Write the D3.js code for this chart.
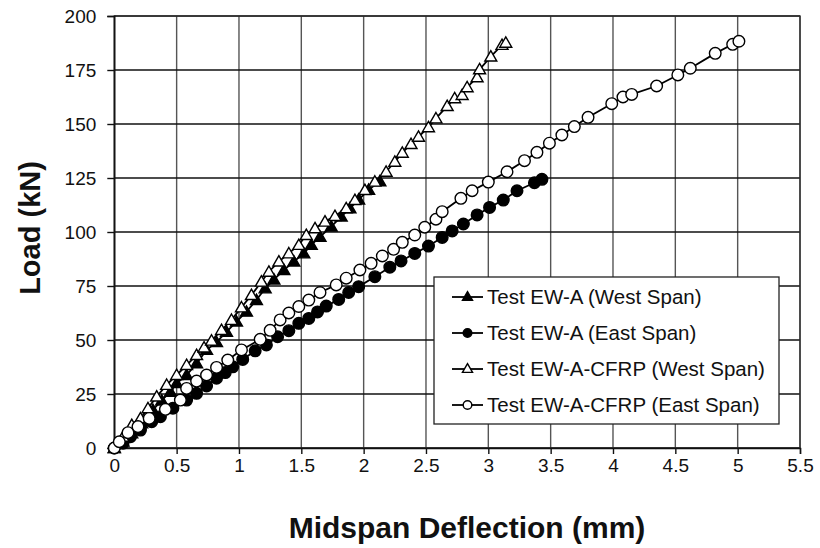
<!DOCTYPE html>
<html><head><meta charset="utf-8">
<script src="https://cdn.jsdelivr.net/npm/d3@7/dist/d3.min.js"></script>
<style>body{margin:0;background:#fff}svg{display:block}text{font-family:Arial,"Liberation Sans",sans-serif}</style>
</head><body><svg id="c" width="820" height="548"></svg>
<script>
const xTicks = [0,0.5,1,1.5,2,2.5,3,3.5,4,4.5,5,5.5];
const yTicks = [0,25,50,75,100,125,150,175,200];
const seriesNames = ["Test EW-A (West Span)","Test EW-A (East Span)","Test EW-A-CFRP (West Span)","Test EW-A-CFRP (East Span)"];

const ewaWest = [[0,0],[0.07,3],[0.14,6.8],[0.22,11.4],[0.31,17.6],[0.38,22],[0.45,26],[0.50,30],[0.58,33.8],[0.66,39.2],[0.74,45.4],[0.82,49],[0.90,53.8],[0.98,58.5],[1.06,63.1],[1.14,68.5],[1.21,73.9],[1.28,78],[1.36,82.4],[1.44,86.3],[1.52,90.1],[1.58,94],[1.65,97.8],[1.74,102.5],[1.82,107.1],[1.89,111],[1.96,115],[2.04,119.5],[2.13,123.5]];
const ewaEast = [[0,0],[0.07,2.2],[0.13,5.2],[0.21,8.3],[0.30,12.2],[0.37,14.5],[0.47,18.4],[0.58,22.2],[0.66,25.3],[0.74,28.7],[0.82,32.3],[0.89,34.9],[0.95,37.6],[1.03,41],[1.13,45],[1.22,47.7],[1.31,51.5],[1.40,54.3],[1.48,57.7],[1.56,60],[1.63,63],[1.70,65.7],[1.80,68.8],[1.88,72],[1.96,74.7],[2.09,79.3],[2.21,83.7],[2.30,86.6],[2.41,90.1],[2.52,93.5],[2.63,97.5],[2.71,100.5],[2.80,103.7],[2.91,107.9],[3.01,111.4],[3.12,114.8],[3.23,119.1],[3.37,122.8],[3.43,124.4]];
const cfrpWest = [[0,0],[0.07,5.2],[0.14,10.6],[0.21,13.7],[0.27,18.4],[0.34,23.8],[0.42,29.2],[0.50,33.8],[0.58,38.4],[0.66,43],[0.72,46.5],[0.78,49.7],[0.86,54.6],[0.94,59.3],[1.02,65.1],[1.10,70.8],[1.18,77],[1.24,81.6],[1.32,86.3],[1.40,90.1],[1.48,94],[1.54,98.6],[1.61,101.7],[1.69,104.8],[1.77,107.4],[1.86,111],[1.93,114.8],[2.01,119.4],[2.09,123.3],[2.18,127.9],[2.25,132.5],[2.31,136.7],[2.38,140.7],[2.44,144.1],[2.52,148.5],[2.58,152.6],[2.67,158.3],[2.73,161.9],[2.79,163.4],[2.83,167],[2.91,171.6],[2.93,175.3],[3.02,181.2],[3.11,186.6],[3.14,187.6]];
const cfrpEast = [[0,0],[0.04,2.9],[0.11,7.1],[0.19,9.9],[0.28,13.7],[0.41,17.9],[0.53,22.2],[0.58,27.6],[0.66,31],[0.74,33.8],[0.82,37.3],[0.91,40.7],[1.02,45.4],[1.17,50.3],[1.25,54.5],[1.33,59.3],[1.40,62.5],[1.48,65.5],[1.56,68.5],[1.65,72],[1.78,75.5],[1.86,78.6],[1.97,82.4],[2.06,85.5],[2.15,88.9],[2.24,92],[2.31,95.2],[2.41,98.6],[2.49,102.2],[2.58,105.9],[2.63,109.4],[2.78,115.6],[2.87,119.1],[3.00,123.1],[3.15,127.9],[3.29,133],[3.39,136.9],[3.49,141.1],[3.59,144.9],[3.69,148.8],[3.80,153.1],[3.99,159.4],[4.08,162.5],[4.15,163.7],[4.35,167.6],[4.52,172.7],[4.62,175.8],[4.82,182.7],[4.96,186.9],[5.01,188.3]];

const series = [
  {name: seriesNames[0], data: ewaWest, shape: "tri", fill: "#000"},
  {name: seriesNames[1], data: ewaEast, shape: "circ", fill: "#000"},
  {name: seriesNames[2], data: cfrpWest, shape: "tri", fill: "#fff"},
  {name: seriesNames[3], data: cfrpEast, shape: "circ", fill: "#fff"}
];

const L = 114.3, R = 800, T = 16, B = 448;
const svg = d3.select("#c");
const x = d3.scaleLinear().domain([0,5.5]).range([L,R]);
const y = d3.scaleLinear().domain([0,200]).range([B,T]);

// grid
svg.append("g").selectAll("line").data(xTicks).join("line")
  .attr("x1", d=>x(d)).attr("x2", d=>x(d)).attr("y1", T).attr("y2", B)
  .attr("stroke", "#555").attr("stroke-width", 1.4);
svg.append("g").selectAll("line").data(yTicks).join("line")
  .attr("x1", L).attr("x2", R).attr("y1", d=>y(d)).attr("y2", d=>y(d))
  .attr("stroke", "#111").attr("stroke-width", 1.6);
svg.append("rect").attr("x", L).attr("y", T).attr("width", R-L).attr("height", B-T)
  .attr("fill", "none").attr("stroke", "#333").attr("stroke-width", 1.4);

// axes
const xa = svg.append("g").attr("transform", `translate(0,${B})`)
  .call(d3.axisBottom(x).tickValues(xTicks).tickFormat(d=>String(d)).tickSize(6).tickPadding(5));
const ya = svg.append("g").attr("transform", `translate(${L},0)`)
  .call(d3.axisLeft(y).tickValues(yTicks).tickFormat(d=>String(d)).tickSize(7).tickPadding(11));
[xa, ya].forEach(a => {
  a.select(".domain").attr("stroke", "#111").attr("stroke-width", 1.4);
  a.selectAll(".tick line").attr("stroke", "#111").attr("stroke-width", 1.4);
  a.selectAll(".tick text").attr("font-size", 19).attr("fill", "#111").attr("font-family", "Arial, 'Liberation Sans', sans-serif");
});

// titles
svg.append("text").attr("x", 467).attr("y", 538).attr("text-anchor", "middle")
  .attr("font-size", 30).attr("font-weight", "bold").attr("fill", "#111")
  .text("Midspan Deflection (mm)");
svg.append("text").attr("transform", "translate(40,228) rotate(-90)").attr("text-anchor", "middle")
  .attr("font-size", 29).attr("font-weight", "bold").attr("fill", "#111")
  .text("Load (kN)");

const line = d3.line().x(d=>x(d[0])).y(d=>y(d[1]));
const triPath = d3.symbol(d3.symbolTriangle, 62)();
const triSmall = d3.symbol(d3.symbolTriangle, 44)();

function drawMarker(g, s, px, py, small) {
  if (s.shape === "tri") {
    g.append("path").attr("d", small ? triSmall : triPath)
      .attr("transform", `translate(${px},${py+ (small?0.5:1)})`)
      .attr("fill", s.fill).attr("stroke", "#000").attr("stroke-width", 1.4);
  } else {
    g.append("circle").attr("cx", px).attr("cy", py).attr("r", small ? 4.3 : 5.8)
      .attr("fill", s.fill).attr("stroke", "#000").attr("stroke-width", 1.4);
  }
}

series.forEach(s => {
  const g = svg.append("g");
  g.append("path").datum(s.data).attr("d", line).attr("fill", "none")
    .attr("stroke", "#000").attr("stroke-width", 1.8);
  s.data.forEach(d => drawMarker(g, s, x(d[0]), y(d[1]), false));
});

// legend
const lg = svg.append("g");
lg.append("rect").attr("x", 434).attr("y", 277).attr("width", 345).attr("height", 147)
  .attr("fill", "#fff").attr("stroke", "#222").attr("stroke-width", 1.3);
series.forEach((s, i) => {
  const cy = 297 + i*36;
  lg.append("line").attr("x1", 452).attr("x2", 483).attr("y1", cy).attr("y2", cy)
    .attr("stroke", "#000").attr("stroke-width", 1.8);
  drawMarker(lg, s, 467.5, cy, true);
  lg.append("text").attr("x", 487).attr("y", cy + 7).attr("font-size", 20.5).attr("fill", "#111")
    .text(s.name);
});
</script></body></html>
